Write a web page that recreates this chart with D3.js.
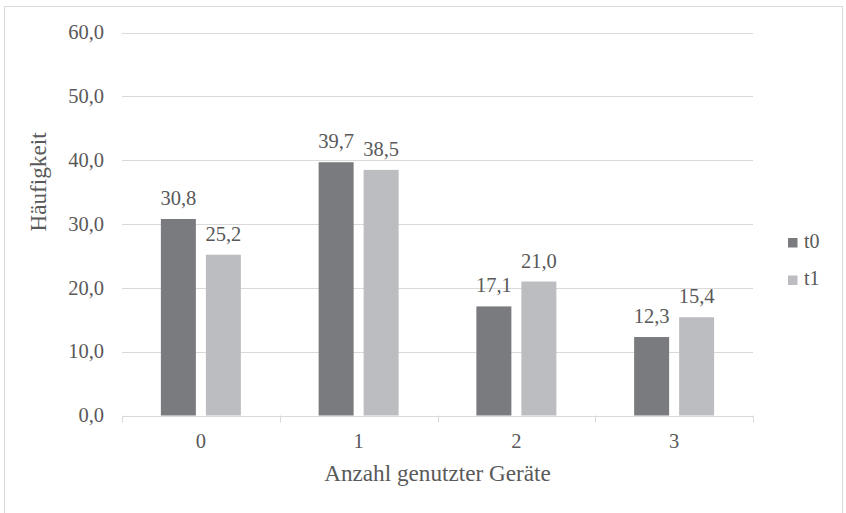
<!DOCTYPE html>
<html>
<head>
<meta charset="utf-8">
<script src="https://cdn.jsdelivr.net/npm/d3@7"></script>
<style>
  html, body { margin: 0; padding: 0; background: #fff; }
  svg { display: block; }
  text { font-family: "Liberation Serif", "Times New Roman", serif; fill: #595959; }
</style>
</head>
<body>
<svg id="chart" width="846" height="513"></svg>
<script>
const categories = ["0", "1", "2", "3"];
const seriesNames = ["t0", "t1"];
const t0Values = [30.8, 39.7, 17.1, 12.3];
const t1Values = [25.2, 38.5, 21.0, 15.4];
const yTicks = [0, 10, 20, 30, 40, 50, 60];
const seriesColors = ["#7a7b7f", "#bcbdc0"];
const xTitle = "Anzahl genutzter Geräte";
const yTitle = "Häufigkeit";

const svg = d3.select("#chart");
const fmt = v => d3.format(".1f")(v).replace(".", ",");

// frame
svg.append("rect")
  .attr("x", 4.5).attr("y", 6.5).attr("width", 838).attr("height", 512)
  .attr("fill", "#fff").attr("stroke", "#d9d9d9").attr("stroke-width", 1);

const plotL = 122, plotR = 753, plotT = 32.7, plotB = 415.5;
const y = d3.scaleLinear().domain([0, 60]).range([plotB, plotT]);
const x0 = d3.scaleBand().domain(categories).range([plotL, plotR]).padding(0);
const groupW = 80;
const x1 = d3.scaleBand().domain(seriesNames).range([0, groupW]).paddingInner(2 - groupW / 45).paddingOuter(0);

// gridlines
svg.append("g").selectAll("line").data(yTicks.filter(d => d > 0)).join("line")
  .attr("x1", plotL).attr("x2", plotR)
  .attr("y1", d => Math.round(y(d)) + 0.5).attr("y2", d => Math.round(y(d)) + 0.5)
  .attr("stroke", "#d9d9d9").attr("stroke-width", 1);

// y tick labels
svg.append("g").selectAll("text").data(yTicks).join("text")
  .attr("x", 104).attr("y", d => y(d)).attr("dy", "0.33em")
  .attr("text-anchor", "end").attr("font-size", 20.5)
  .text(d => fmt(d));

// bars
const data = categories.map((c, i) => ({ cat: c, vals: [t0Values[i], t1Values[i]] }));
const groups = svg.append("g").selectAll("g").data(data).join("g")
  .attr("transform", d => `translate(${x0(d.cat) + x0.bandwidth() / 2 - groupW / 2},0)`);
groups.selectAll("rect").data(d => d.vals.map((v, j) => ({ s: seriesNames[j], v, j }))).join("rect")
  .attr("x", d => x1(d.s)).attr("width", x1.bandwidth())
  .attr("y", d => y(d.v)).attr("height", d => plotB - y(d.v))
  .attr("fill", d => seriesColors[d.j]);
groups.selectAll("text").data(d => d.vals.map((v, j) => ({ s: seriesNames[j], v, j }))).join("text")
  .attr("x", d => x1(d.s) + x1.bandwidth() / 2).attr("y", d => y(d.v) - 14)
  .attr("text-anchor", "middle").attr("font-size", 20.5)
  .text(d => fmt(d.v));

// x axis
const xAxis = svg.append("g");
xAxis.append("line").attr("x1", plotL).attr("x2", plotR)
  .attr("y1", Math.round(plotB) + 0.5).attr("y2", Math.round(plotB) + 0.5)
  .attr("stroke", "#d9d9d9");
const bounds = categories.map(c => x0(c)).concat([plotR]);
xAxis.selectAll("line.tick").data(bounds).join("line").attr("class", "tick")
  .attr("x1", d => Math.round(d) + 0.5).attr("x2", d => Math.round(d) + 0.5)
  .attr("y1", plotB).attr("y2", plotB + 7)
  .attr("stroke", "#d9d9d9");
xAxis.selectAll("text").data(categories).join("text")
  .attr("x", d => x0(d) + x0.bandwidth() / 2).attr("y", 448)
  .attr("text-anchor", "middle").attr("font-size", 20.5)
  .text(d => d);

// axis titles
svg.append("text").attr("x", (plotL + plotR) / 2).attr("y", 481)
  .attr("text-anchor", "middle").attr("font-size", 23.2).text(xTitle);
svg.append("text").attr("transform", "translate(46,182) rotate(-90)")
  .attr("text-anchor", "middle").attr("font-size", 23.2).text(yTitle);

// legend
const leg = svg.append("g").selectAll("g").data(seriesNames).join("g")
  .attr("transform", (d, i) => `translate(788,${238 + i * 37.5})`);
leg.append("rect").attr("width", 9.5).attr("height", 9.5).attr("fill", (d, i) => seriesColors[i]);
leg.append("text").attr("x", 16).attr("y", 9.5).attr("font-size", 20).text(d => d);
</script>
</body>
</html>
